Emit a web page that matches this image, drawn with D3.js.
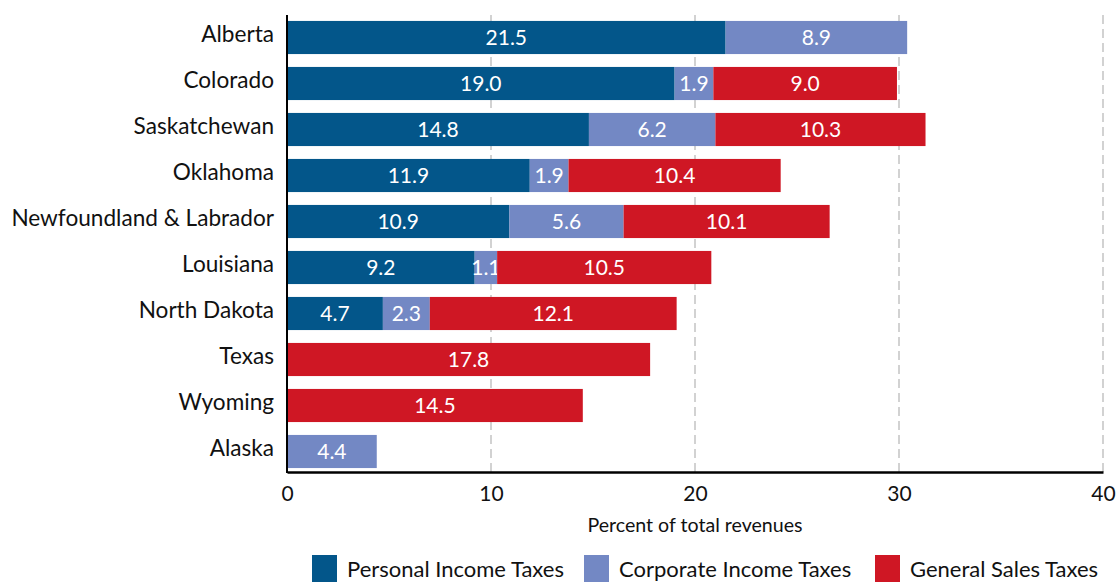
<!DOCTYPE html>
<html>
<head>
<meta charset="utf-8">
<script src="https://cdn.jsdelivr.net/npm/d3@7"></script>
<style>
  html, body { margin: 0; padding: 0; background: #fff; }
  svg { display: block; font-family: Lato, "Open Sans", sans-serif; }
</style>
</head>
<body>
<svg id="chart" width="1119" height="582"></svg>
<script>
// Revenue shares by jurisdiction (percent of total revenues)
const categories = ["Alberta", "Colorado", "Saskatchewan", "Oklahoma", "Newfoundland & Labrador",
                    "Louisiana", "North Dakota", "Texas", "Wyoming", "Alaska"];
const personalIncome = [21.5, 19.0, 14.8, 11.9, 10.9, 9.2, 4.7, 0, 0, 0];
const corporateIncome = [8.9, 1.9, 6.2, 1.9, 5.6, 1.1, 2.3, 0, 0, 4.4];
const generalSales = [0, 9.0, 10.3, 10.4, 10.1, 10.5, 12.1, 17.8, 14.5, 0];
const seriesNames = ["Personal Income Taxes", "Corporate Income Taxes", "General Sales Taxes"];
const seriesColors = ["#03568a", "#7388c4", "#cf1724"];
const xTicks = [0, 10, 20, 30, 40];
const axisTitle = "Percent of total revenues";

const svg = d3.select("#chart");
const plotLeft = 287, plotRight = 1103, plotTop = 15, plotBottom = 472;

const x = d3.scaleLinear().domain([0, 40]).range([plotLeft, plotRight]);
const y = d3.scaleBand().domain(categories).range([14.5, 474.5])
  .paddingInner(0.28).paddingOuter(0.14);

const rows = categories.map((c, i) => ({
  name: c,
  "Personal Income Taxes": personalIncome[i],
  "Corporate Income Taxes": corporateIncome[i],
  "General Sales Taxes": generalSales[i]
}));
const stacked = d3.stack().keys(seriesNames)(rows);

// dashed vertical gridlines
svg.append("g").selectAll("line")
  .data(xTicks.filter(t => t > 0))
  .join("line")
  .attr("x1", d => x(d)).attr("x2", d => x(d))
  .attr("y1", plotTop).attr("y2", plotBottom)
  .attr("stroke", "#b5b5b5").attr("stroke-width", 1.2)
  .attr("stroke-dasharray", "9,5");

// stacked bars
const layer = svg.append("g").selectAll("g")
  .data(stacked).join("g")
  .attr("fill", (d, i) => seriesColors[i]);

layer.selectAll("rect")
  .data(d => d.filter(s => s[1] - s[0] > 0))
  .join("rect")
  .attr("x", d => x(d[0]))
  .attr("width", d => x(d[1]) - x(d[0]))
  .attr("y", d => y(d.data.name))
  .attr("height", y.bandwidth());

// value labels centred in each segment
layer.selectAll("text")
  .data(d => d.filter(s => s[1] - s[0] > 0))
  .join("text")
  .attr("x", d => x((d[0] + d[1]) / 2))
  .attr("y", d => y(d.data.name) + y.bandwidth() / 2 + 7.5)
  .attr("text-anchor", "middle")
  .attr("fill", "#fff")
  .attr("font-size", 21)
  .text(d => (d[1] - d[0]).toFixed(1));

// category labels
svg.append("g").selectAll("text")
  .data(categories).join("text")
  .attr("x", 274)
  .attr("y", d => y(d) + y.bandwidth() / 2 + 4.5)
  .attr("text-anchor", "end")
  .attr("font-size", 22.6)
  .attr("fill", "#111")
  .text(d => d);

// axis lines
svg.append("line").attr("x1", plotLeft).attr("x2", plotLeft)
  .attr("y1", plotTop).attr("y2", plotBottom + 1)
  .attr("stroke", "#000").attr("stroke-width", 2);
const xAxis = svg.append("g").attr("transform", `translate(0,${plotBottom})`)
  .call(d3.axisBottom(x).tickValues(xTicks).tickSize(0).tickPadding(14));
xAxis.select(".domain").attr("stroke", "#000").attr("stroke-width", 2.5);
xAxis.selectAll("text").attr("font-size", 21).attr("font-family", "Lato, sans-serif").attr("fill", "#111");

svg.append("text")
  .attr("x", x(20)).attr("y", 532)
  .attr("text-anchor", "middle")
  .attr("font-size", 19.6)
  .attr("fill", "#111")
  .text(axisTitle);

// legend
const legendX = [312, 584, 875];
const legend = svg.append("g").selectAll("g")
  .data(seriesNames).join("g")
  .attr("transform", (d, i) => `translate(${legendX[i]},555)`);
legend.append("rect").attr("width", 25).attr("height", 30)
  .attr("fill", (d, i) => seriesColors[i]);
legend.append("text").attr("x", 35).attr("y", 22)
  .attr("font-size", 22).attr("fill", "#111")
  .text(d => d);
</script>
</body>
</html>
